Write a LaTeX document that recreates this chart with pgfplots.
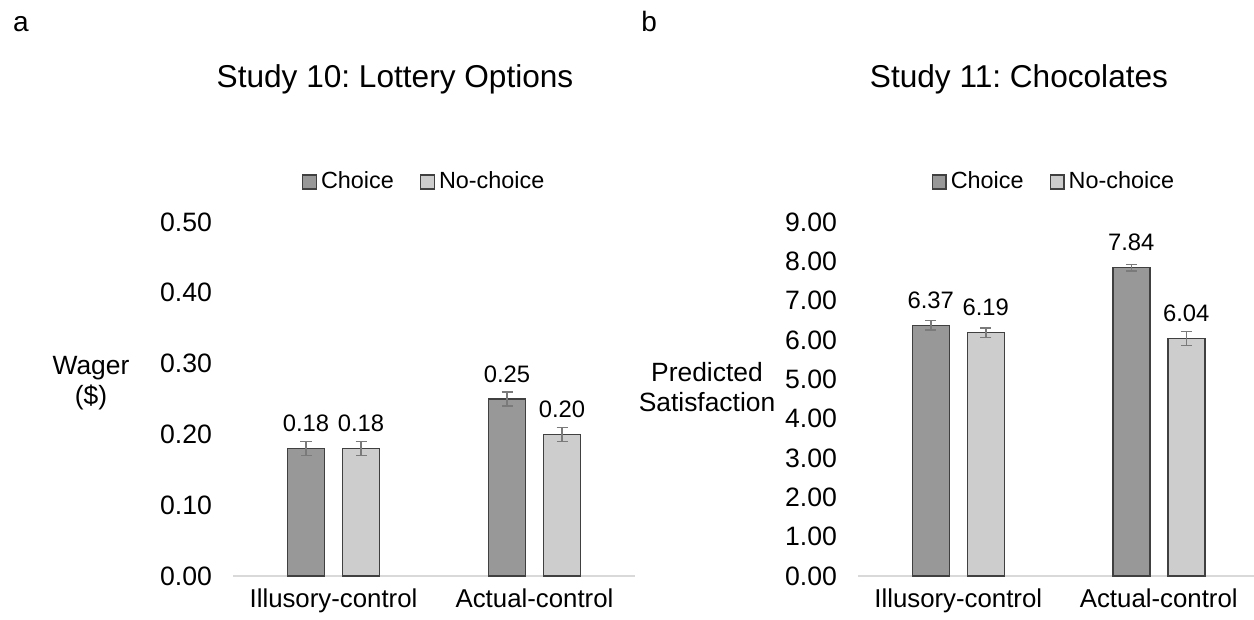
\documentclass[border=0pt]{standalone}
\usepackage{fontspec}
\setmainfont{Liberation Sans}
\usepackage{pgfplots}
\pgfplotsset{compat=1.18}
\frenchspacing

\definecolor{choicefill}{HTML}{989898}
\definecolor{nochoicefill}{HTML}{CDCDCD}
\definecolor{baredge}{HTML}{404040}
\definecolor{errcol}{HTML}{7A7A7A}
\definecolor{axiscol}{HTML}{D9D9D9}

\pgfplotsset{
  panel/.style={
    scale only axis, width=201pt, height=177pt,
    anchor=south west,
    ybar=9pt, bar width=18.5pt,
    xmin=-0.5, xmax=1.5,
    xtick={0,1}, xticklabels={Illusory-control, Actual-control},
    axis x line*=bottom, axis y line*=left,
    x axis line style={draw=axiscol, line width=1pt, -},
    y axis line style={draw=none},
    major tick length=0pt,
    /pgf/number format/assume math mode=true,
    tick label style={font=\fontsize{13.3}{16}\selectfont},
    xticklabel style={yshift=-2.7pt, font=\fontsize{12.9}{16}\selectfont},
    yticklabel style={xshift=-7pt, /pgf/number format/.cd, fixed, fixed zerofill, precision=2},
    nodes near coords={\pgfmathprintnumber[fixed, fixed zerofill, precision=2]{\pgfplotspointmeta}},
    every node near coord/.append style={font=\fontsize{11.9}{14}\selectfont, yshift=4.5pt, text=black},
    legend columns=2,
    legend style={draw=none, fill=none, anchor=center, font=\fontsize{11.7}{14}\selectfont,
      /tikz/every even column/.append style={column sep=11pt}},
    legend image code/.code={\draw[#1] (0pt,-3.4pt) rectangle (6.8pt,3.4pt);},
    clip=false,
    error bars/y dir=both, error bars/y explicit,
    error bars/error bar style={draw=errcol, line width=0.75pt},
    error bars/error mark options={rotate=90, mark size=2.75pt, draw=errcol, line width=0.75pt},
  },
  choicebar/.style={fill=choicefill, draw=baredge, line width=0.75pt},
  nochoicebar/.style={fill=nochoicefill, draw=baredge, line width=0.75pt},
}

\begin{document}
\begin{tikzpicture}
\path[use as bounding box] (0,0) rectangle (627pt,310pt);

\node[anchor=base west, font=\fontsize{14}{16}\selectfont, inner sep=0pt] at (6.3pt,294.2pt) {a};
\node[anchor=base west, font=\fontsize{14}{16}\selectfont, inner sep=0pt] at (320.5pt,294.2pt) {b};
\node[anchor=base, font=\fontsize{15.8}{18}\selectfont, inner sep=0pt] at (197.5pt,266.4pt) {Study 10: Lottery Options};
\node[anchor=base, font=\fontsize{15.8}{18}\selectfont, inner sep=0pt] at (509.5pt,266.4pt) {Study 11: Chocolates};

% panel a
\begin{axis}[panel, at={(116.5pt,22pt)},
  ymin=0, ymax=0.5, ytick={0,0.1,...,0.5},
  legend style={at={(0.478,1.113)}}]
\addplot[choicebar] coordinates {(0,0.18) +- (0,0.01) (1,0.25) +- (0,0.01)};
\addplot[nochoicebar] coordinates {(0,0.18) +- (0,0.01) (1,0.20) +- (0,0.01)};
\legend{Choice, No-choice}
\end{axis}
\node[align=center, font=\fontsize{13.2}{15}\selectfont] at (45.5pt,118.5pt) {Wager\\(\$)};

% panel b
\begin{axis}[panel, at={(429pt,22pt)}, width=200.5pt,
  ymin=0, ymax=9, ytick={0,1,...,9},
  legend style={at={(0.491,1.113)}}]
\addplot[choicebar] coordinates {(0,6.37) +- (0,0.12) (1,7.84) +- (0,0.08)};
\addplot[nochoicebar] coordinates {(0,6.19) +- (0,0.12) (1,6.04) +- (0,0.18)};
\legend{Choice, No-choice}
\end{axis}
\node[align=center, font=\fontsize{13.2}{15}\selectfont] at (353.5pt,116.5pt) {Predicted\\Satisfaction};
\end{tikzpicture}
\end{document}
